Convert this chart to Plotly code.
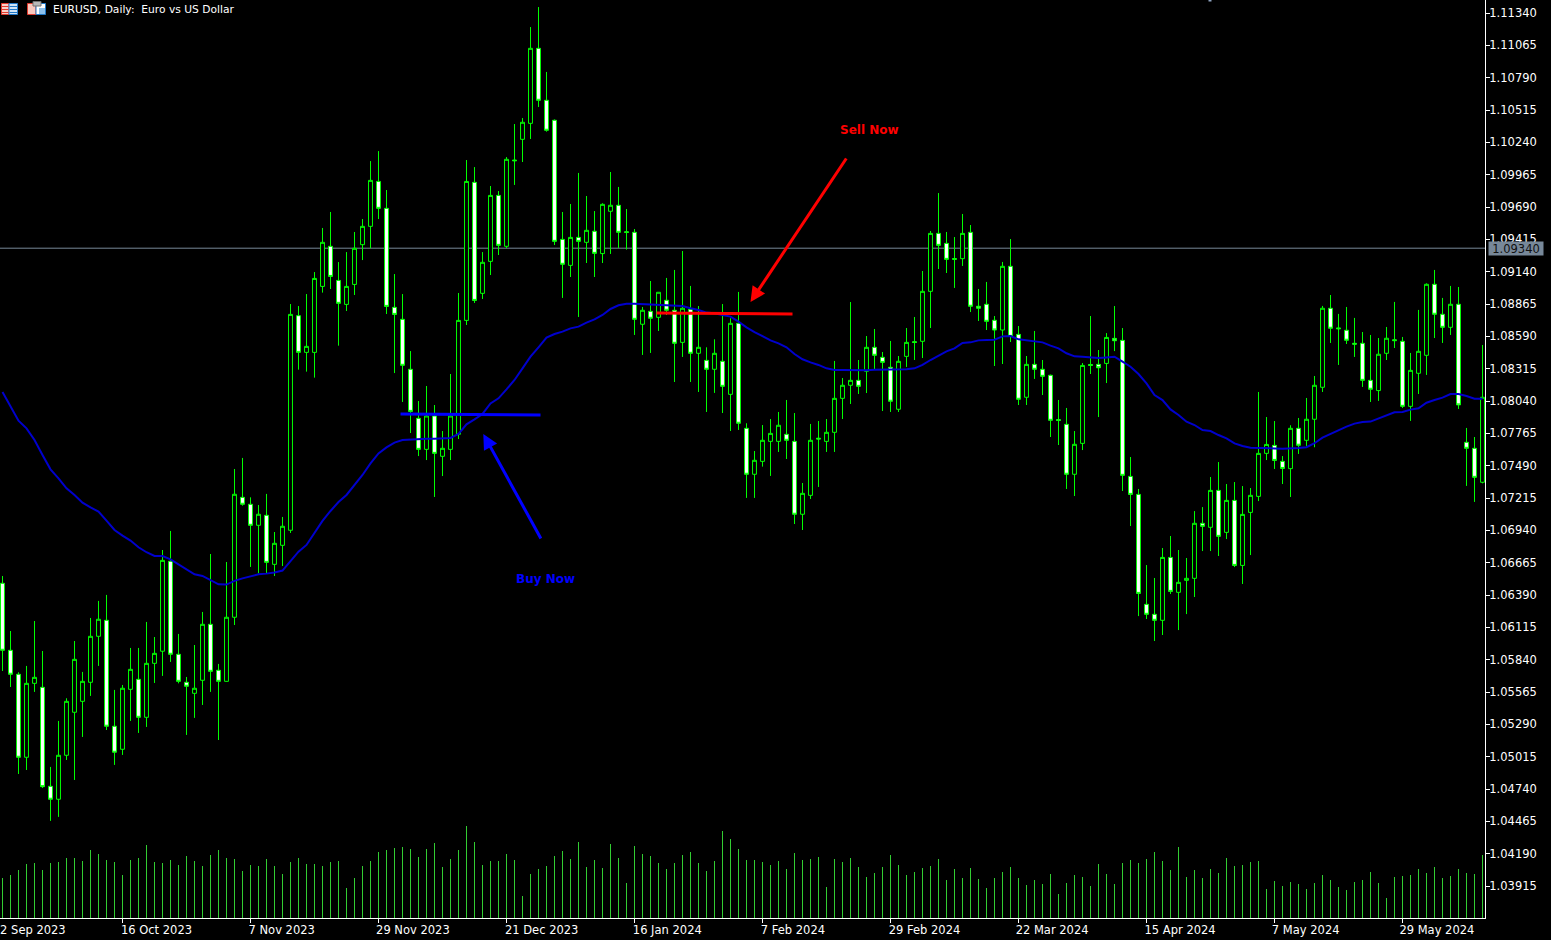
import plotly.graph_objects as go

high_price = [
1.06552,1.06084,1.05733,1.05787,1.06169,1.05914,1.04928,1.05319,1.05512,1.05999,
1.05736,1.06195,1.06340,1.06391,1.05583,1.05625,1.05940,1.05940,1.06161,1.06033,
1.06773,1.06935,1.06059,1.05693,1.05965,1.06246,1.06739,1.05804,1.06671,1.07462,
1.07556,1.07221,1.07156,1.07250,1.06926,1.07054,1.08865,1.08848,1.08950,1.09137,
1.09512,1.09648,1.09222,1.09307,1.09478,1.09588,1.10081,1.10166,1.09835,1.09120,
1.08950,1.08465,1.08040,1.08168,1.08006,1.07785,1.08270,1.08959,1.10090,1.10030,
1.09307,1.09869,1.09826,1.10115,1.10396,1.10447,1.11221,1.11391,1.10839,1.10435,
1.09648,1.09716,1.09980,1.09784,1.09656,1.09722,1.09988,1.09861,1.09673,1.09503,
1.08840,1.09061,1.08965,1.09087,1.09155,1.09316,1.09019,1.08848,1.08497,1.08565,
1.08865,1.08744,1.08968,1.07851,1.07615,1.07836,1.07887,1.07947,1.08049,1.07938,
1.07343,1.07845,1.07870,1.07887,1.08381,1.08236,1.08882,1.08389,1.08593,1.08653,
1.08457,1.08551,1.08423,1.08661,1.08755,1.09146,1.09486,1.09809,1.09478,1.09435,
1.09631,1.09537,1.08993,1.09053,1.08763,1.09223,1.09418,1.08678,1.08423,1.08636,
1.08389,1.08265,1.08049,1.07981,1.07785,1.08363,1.08763,1.08474,1.08618,1.08848,
1.08661,1.07564,1.07292,1.06645,1.06535,1.06790,1.06892,1.06773,1.06705,1.07104,
1.07138,1.07394,1.07521,1.07334,1.07351,1.07317,1.07300,1.08117,1.07904,1.07870,
1.07572,1.07834,1.07896,1.08066,1.08253,1.08849,1.08942,1.08781,1.08840,1.08747,
1.08627,1.08602,1.08576,1.08670,1.08883,1.08585,1.08449,1.08815,1.09041,1.09155,
1.08917,1.09019,1.09010,1.07811,1.07734,1.08517]

open_price = [
1.06490,1.05920,1.05716,1.05010,1.05639,1.05605,1.04763,1.04653,1.05027,1.05393,
1.05486,1.05648,1.06039,1.06175,1.05274,1.05078,1.05588,1.05673,1.05350,1.05809,
1.05912,1.06677,1.05886,1.05648,1.05554,1.05665,1.06141,1.05750,1.05656,1.06201,
1.07221,1.07162,1.06983,1.07068,1.06651,1.06813,1.06941,1.08766,1.08454,1.08454,
1.09015,1.09356,1.09066,1.08862,1.09032,1.09370,1.09526,1.09908,1.09679,1.08837,
1.08735,1.08310,1.07893,1.07629,1.07913,1.07570,1.07629,1.07757,1.08726,1.09900,
1.08956,1.09228,1.09789,1.09356,1.10090,1.10266,1.10402,1.11040,1.10598,1.10428,
1.09415,1.09194,1.09432,1.09390,1.09484,1.09294,1.09654,1.09705,1.09480,1.09475,
1.08693,1.08803,1.08752,1.08897,1.08812,1.08539,1.08820,1.08446,1.08386,1.08310,
1.08378,1.08097,1.08701,1.07808,1.07417,1.07527,1.07697,1.07697,1.07757,1.07697,
1.07077,1.07238,1.07724,1.07697,1.07774,1.08063,1.08174,1.08216,1.08293,1.08497,
1.08412,1.08327,1.07970,1.08420,1.08545,1.08548,1.08973,1.09466,1.09381,1.09252,
1.09251,1.09475,1.08846,1.08863,1.08727,1.08644,1.09186,1.08607,1.08072,1.08352,
1.08310,1.08259,1.07882,1.07842,1.07417,1.07680,1.08351,1.08352,1.08360,1.08573,
1.08556,1.07399,1.07246,1.06311,1.06226,1.06175,1.06710,1.06413,1.06515,1.06532,
1.07000,1.06966,1.07280,1.06923,1.07195,1.06642,1.07093,1.07229,1.07595,1.07663,
1.07527,1.07465,1.07808,1.07706,1.07885,1.08157,1.08829,1.08662,1.08642,1.08531,
1.08531,1.08216,1.08129,1.08446,1.08561,1.08548,1.07995,1.08276,1.08429,1.09033,
1.08778,1.08667,1.08863,1.07689,1.07638,1.07349]

close_price = [
1.05920,1.05716,1.05010,1.05639,1.05690,1.04760,1.04653,1.05027,1.05486,1.05843,
1.05656,1.06039,1.06184,1.05274,1.05053,1.05597,1.05758,1.05350,1.05809,1.05894,
1.06685,1.05886,1.05656,1.05614,1.05597,1.06141,1.05741,1.05656,1.06201,1.07247,
1.07162,1.06983,1.07077,1.06668,1.06830,1.06975,1.08777,1.08454,1.08505,1.09083,
1.09390,1.09100,1.08871,1.09015,1.09339,1.09526,1.09917,1.09679,1.08845,1.08777,
1.08344,1.07952,1.07629,1.07913,1.07595,1.07638,1.07913,1.08726,1.09908,1.08896,
1.09220,1.09789,1.09364,1.10096,1.10084,1.10411,1.11040,1.10598,1.10343,1.09398,
1.09203,1.09432,1.09398,1.09492,1.09296,1.09713,1.09705,1.09475,1.09474,1.08735,
1.08812,1.08744,1.08965,1.08812,1.08531,1.08829,1.08446,1.08497,1.08310,1.08446,
1.08165,1.08701,1.07851,1.07417,1.07536,1.07706,1.07765,1.07834,1.07706,1.07077,
1.07255,1.07706,1.07717,1.07774,1.08063,1.08174,1.08216,1.08165,1.08497,1.08429,
1.08369,1.08038,1.08378,1.08539,1.08538,1.08973,1.09466,1.09364,1.09245,1.09245,
1.09466,1.08846,1.08829,1.08718,1.08644,1.09186,1.08590,1.08055,1.08352,1.08310,
1.08250,1.07876,1.07875,1.07417,1.07672,1.08343,1.08343,1.08323,1.08581,1.08553,
1.07408,1.07246,1.06404,1.06226,1.06175,1.06710,1.06421,1.06498,1.06532,1.07000,
1.06974,1.07280,1.06889,1.07195,1.06642,1.07076,1.07238,1.07595,1.07671,1.07535,
1.07467,1.07808,1.07664,1.07885,1.08174,1.08829,1.08659,1.08655,1.08557,1.08524,
1.08216,1.08140,1.08438,1.08574,1.08554,1.07995,1.08301,1.08463,1.09033,1.08778,
1.08667,1.08863,1.08007,1.07638,1.07391,1.08072]

low_price = [
1.05744,1.05608,1.04868,1.04902,1.05566,1.04749,1.04469,1.04503,1.04987,1.04817,
1.05183,1.05532,1.05787,1.05242,1.04945,1.05030,1.05319,1.05217,1.05268,1.05642,
1.05702,1.05821,1.05639,1.05200,1.05345,1.05455,1.05566,1.05157,1.05653,1.06135,
1.07150,1.06629,1.06575,1.06575,1.06552,1.06637,1.06918,1.08307,1.08290,1.08239,
1.08962,1.08993,1.08511,1.08806,1.08942,1.09239,1.09339,1.09588,1.08780,1.08278,
1.08032,1.07768,1.07572,1.07538,1.07224,1.07402,1.07538,1.07717,1.08687,1.08874,
1.08908,1.09112,1.09282,1.09341,1.09878,1.10073,1.10269,1.10541,1.10331,1.09367,
1.08917,1.09095,1.08755,1.09214,1.09095,1.09214,1.09291,1.09342,1.09328,1.08602,
1.08432,1.08449,1.08636,1.08772,1.08202,1.08415,1.08202,1.08117,1.07947,1.08109,
1.07938,1.07785,1.07794,1.07216,1.07216,1.07482,1.07403,1.07607,1.07547,1.06994,
1.06943,1.07207,1.07309,1.07607,1.07607,1.07887,1.08015,1.08100,1.08108,1.08304,
1.07955,1.07947,1.07947,1.08330,1.08389,1.08406,1.08661,1.09163,1.09129,1.09002,
1.09189,1.08797,1.08721,1.08644,1.08338,1.08355,1.08542,1.08006,1.08006,1.08228,
1.08091,1.07734,1.07666,1.07292,1.07232,1.07623,1.08270,1.07904,1.08193,1.08465,
1.07275,1.06977,1.06211,1.06186,1.05999,1.06050,1.06399,1.06092,1.06228,1.06373,
1.06764,1.06764,1.06722,1.06866,1.06628,1.06484,1.06730,1.07189,1.07538,1.07462,
1.07334,1.07224,1.07590,1.07658,1.07647,1.08117,1.08534,1.08347,1.08525,1.08415,
1.08160,1.08032,1.08041,1.08389,1.08491,1.07981,1.07871,1.08100,1.08262,1.08576,
1.08534,1.08602,1.07973,1.07318,1.07182,1.07340]

moving_average = [
1.08117,1.07998,1.07873,1.07808,1.07709,1.07581,1.07459,1.07383,1.07298,1.07241,
1.07176,1.07136,1.07099,1.07023,1.06943,1.06895,1.06853,1.06796,1.06754,1.06722,
1.06722,1.06694,1.06651,1.06612,1.06566,1.06552,1.06518,1.06481,1.06479,1.06510,
1.06532,1.06547,1.06566,1.06572,1.06581,1.06598,1.06683,1.06759,1.06816,1.06918,
1.07020,1.07105,1.07181,1.07241,1.07326,1.07411,1.07510,1.07595,1.07646,1.07686,
1.07708,1.07714,1.07720,1.07720,1.07720,1.07720,1.07726,1.07760,1.07842,1.07884,
1.07930,1.08020,1.08063,1.08139,1.08219,1.08318,1.08417,1.08497,1.08579,1.08610,
1.08630,1.08658,1.08673,1.08707,1.08735,1.08772,1.08823,1.08854,1.08868,1.08868,
1.08865,1.08857,1.08857,1.08854,1.08848,1.08848,1.08829,1.08814,1.08792,1.08786,
1.08772,1.08758,1.08715,1.08667,1.08627,1.08593,1.08556,1.08531,1.08497,1.08440,
1.08395,1.08369,1.08347,1.08318,1.08304,1.08304,1.08301,1.08298,1.08301,1.08307,
1.08307,1.08304,1.08304,1.08310,1.08318,1.08347,1.08389,1.08426,1.08463,1.08488,
1.08534,1.08539,1.08556,1.08559,1.08562,1.08590,1.08593,1.08565,1.08556,1.08548,
1.08539,1.08511,1.08488,1.08446,1.08420,1.08417,1.08411,1.08406,1.08411,1.08417,
1.08375,1.08332,1.08270,1.08190,1.08091,1.08048,1.07969,1.07921,1.07864,1.07836,
1.07793,1.07785,1.07751,1.07722,1.07680,1.07657,1.07643,1.07643,1.07643,1.07637,
1.07635,1.07635,1.07641,1.07647,1.07681,1.07729,1.07760,1.07794,1.07822,1.07848,
1.07862,1.07865,1.07893,1.07916,1.07944,1.07947,1.07967,1.07978,1.08026,1.08049,
1.08069,1.08100,1.08100,1.08083,1.08060,1.08060]

tick_volume = [
4000,4300,4800,5400,5500,4800,5500,5600,6000,6000,5700,6800,6400,5800,5600,4300,
5800,6000,7300,5600,5500,5800,5300,6200,5700,5200,6300,6800,6000,5900,4700,5300,
5200,5900,5200,4400,5600,6000,5400,5400,5200,5600,5700,3000,4000,5200,5700,6600,
6800,7000,7100,6900,6100,6900,7500,5100,5900,6800,9200,7600,5300,5700,5700,6400,
5800,2200,4400,4900,5200,6200,6700,5900,7600,5100,5800,5000,7400,6000,3500,7200,
6400,6200,5500,4900,5500,6300,6600,5500,4700,5700,8700,7900,6900,5800,5800,5600,
5300,5700,4900,6500,5800,5900,6100,3100,5900,5600,6000,5100,4100,4500,5100,6300,
5300,4300,4600,5000,5200,5900,3800,4900,4000,5000,3900,3000,4000,4600,5100,4000,
3300,3800,3400,4400,2400,3500,4300,4100,3200,5400,4400,3400,5500,5800,5500,5900,
6600,5700,4800,7100,4100,4800,4000,4900,4500,6000,5200,5300,5600,5700,2900,3700,
3200,3600,3400,2900,3500,4300,3800,3100,2800,3600,3800,4600,3500,2000,4100,4200,
4300,4900,4500,5100,4000,4200,4900,4500,4400,6300]

bar_index = list(range(len(close_price)))
price_ticks = [1.11340,1.11065,1.10790,1.10515,1.10240,1.09965,1.09690,1.09415,1.09140,
               1.08865,1.08590,1.08315,1.08040,1.07765,1.07490,1.07215,1.06940,1.06665,
               1.06390,1.06115,1.05840,1.05565,1.05290,1.05015,1.04740,1.04465,1.04190,1.03915]
date_tick_bars = [15,31,47,63,79,95,111,127,143,159,175]
date_label_bars = [3.8,19.25,34.9,51.3,67.4,83.1,98.8,115.25,131.2,147.2,162.9,179.3]
date_labels = ["2 Sep 2023","16 Oct 2023","7 Nov 2023","29 Nov 2023","21 Dec 2023","16 Jan 2024",
               "7 Feb 2024","29 Feb 2024","22 Mar 2024","15 Apr 2024","7 May 2024","29 May 2024"]
last_price = 1.09340

W, H = 1551, 940
PLOT_W, PLOT_H = 1485, 918
FONT = "DejaVu Sans"
GREEN, WHITE = "#00FF00", "#FFFFFF"
XR = [-0.3125, 185.3125]
YR = [1.03643, 1.11451]

fig = go.Figure()
fig.add_trace(go.Bar(x=bar_index, y=tick_volume, width=0.12, marker=dict(color="#32CD32", line_width=0),
                     xaxis="x2", yaxis="y2", showlegend=False))
fig.add_trace(go.Candlestick(x=bar_index, open=open_price, high=high_price, low=low_price, close=close_price,
                             whiskerwidth=0, showlegend=False,
                             increasing=dict(line=dict(color=GREEN, width=1), fillcolor="#000000"),
                             decreasing=dict(line=dict(color=GREEN, width=1), fillcolor=WHITE)))
fig.add_trace(go.Scatter(x=bar_index, y=moving_average, mode="lines", showlegend=False,
                         line=dict(color="#0000CD", width=2)))

def rect(x0, y0, x1, y1, fill, line=None):
    return dict(type="rect", xref="paper", yref="paper", x0=x0/PLOT_W, x1=x1/PLOT_W,
                y0=1-y0/PLOT_H, y1=1-y1/PLOT_H, fillcolor=fill, layer="above",
                line=dict(color=line or fill, width=1 if line else 0))

shapes = [
    dict(type="line", xref="x", yref="y", x0=XR[0], x1=XR[1], y0=last_price, y1=last_price,
         layer="below", line=dict(color="#778899", width=1)),
    dict(type="line", xref="x", yref="y", x0=49.75, x1=67.25, y0=1.07930, y1=1.07921,
         layer="above", line=dict(color="#0000FF", width=3)),
    dict(type="line", xref="x", yref="y", x0=81.75, x1=98.75, y0=1.08789, y1=1.08780,
         layer="above", line=dict(color="#FF0000", width=3)),
    # MetaTrader toolbar icons and the small grey marker on the top edge
    rect(1.5, 3.5, 9, 14.5, "#F8D0C8", "#E03A2E"), rect(9, 3.5, 17.5, 14.5, "#CFE4F6", "#1F78C8"),
    rect(2, 6, 8.5, 7, "#E03A2E"), rect(2, 9, 8.5, 10, "#E03A2E"), rect(2, 12, 8.5, 13, "#E03A2E"),
    rect(9.5, 6, 17, 7, "#1F78C8"), rect(9.5, 9, 17, 10, "#1F78C8"), rect(9.5, 12, 17, 13, "#1F78C8"),
    rect(27.5, 3.5, 36, 14.5, "#F9C8BE", "#E03A2E"), rect(36, 3.5, 45.5, 14.5, "#FFFFFF", "#1F78C8"),
    rect(39, 8, 45, 14, "#8CC0EC"), rect(33, 1.5, 41, 6, "#B8B8B8", "#707070"),
    rect(1208.5, 0, 1211.5, 1.5, "#8FA3C0"),
]

annotations = [
    dict(x=60.1, y=1.07760, ax=67.4, ay=1.06858, xref="x", yref="y", axref="x", ayref="y", text="",
         showarrow=True, arrowhead=2, arrowsize=1, arrowwidth=3, arrowcolor="#0000FF"),
    dict(x=93.5, y=1.08883, ax=105.6, ay=1.10116, xref="x", yref="y", axref="x", ayref="y", text="",
         showarrow=True, arrowhead=2, arrowsize=1, arrowwidth=3, arrowcolor="#FF0000"),
    dict(x=67.9, y=1.06527, xref="x", yref="y", text="<b>Buy Now</b>", showarrow=False,
         font=dict(family=FONT, size=12, color="#0000FF")),
    dict(x=108.4, y=1.10345, xref="x", yref="y", text="<b>Sell Now</b>", showarrow=False,
         font=dict(family=FONT, size=12, color="#FF0000")),
    dict(x=1, y=last_price, xref="paper", yref="y", xanchor="left", xshift=3, text=f"{last_price:.5f}",
         showarrow=False, bgcolor="#778899", borderpad=0, width=54, height=13,
         font=dict(family=FONT, size=11.5, color="#111111")),
]

fig.update_layout(
    width=W, height=H, paper_bgcolor="#000000", plot_bgcolor="#000000",
    margin=dict(l=0, r=W-PLOT_W, t=0, b=H-PLOT_H, pad=0, autoexpand=False),
    title=dict(text="EURUSD, Daily:\u00a0 Euro vs US Dollar", x=53/W, xanchor="left", xref="container",
               y=1-9/H, yanchor="middle", yref="container", font=dict(family=FONT, size=10.7, color=WHITE)),
    font=dict(family=FONT, size=11.5, color=WHITE),
    showlegend=False, hovermode=False, barmode="overlay",
    shapes=shapes, annotations=annotations,
    xaxis=dict(range=XR, tickmode="array", tickvals=date_tick_bars, showticklabels=False, ticks="outside",
               ticklen=4, tickwidth=1, tickcolor=WHITE, showgrid=False, zeroline=False, showline=True,
               linecolor=WHITE, linewidth=1, rangeslider=dict(visible=False), fixedrange=True),
    xaxis2=dict(range=XR, overlaying="x", anchor="y", side="bottom", tickmode="array", tickvals=date_label_bars,
                ticktext=date_labels, ticks="", ticklen=0, ticklabelstandoff=3, showgrid=False, zeroline=False,
                showline=False, tickfont=dict(family=FONT, size=11.5, color=WHITE), tickangle=0, fixedrange=True),
    yaxis=dict(range=YR, side="right", tickmode="array", tickvals=price_ticks,
               ticktext=[f"{v:.5f}" for v in price_ticks], ticks="outside", ticklen=4, tickwidth=1,
               ticklabelstandoff=-3, tickcolor=WHITE, showgrid=False, zeroline=False, showline=True,
               linecolor=WHITE, linewidth=1, tickfont=dict(family=FONT, size=11.5, color=WHITE), fixedrange=True),
    yaxis2=dict(range=[0, 91800], overlaying="y", anchor="x2", visible=False, fixedrange=True),
)

fig.write_html("out.html", config=dict(displayModeBar=False), post_script=(
    "document.body.style.margin='0';document.body.style.background='#000';"
    "document.body.style.overflow='hidden';"))
